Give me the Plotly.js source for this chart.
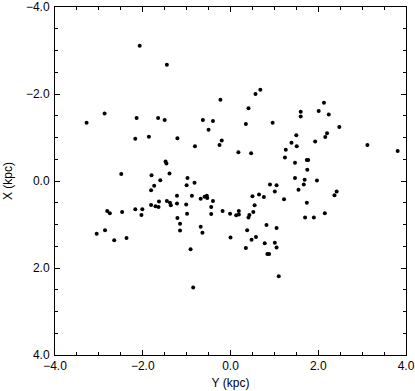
<!DOCTYPE html>
<html>
<head>
<meta charset="utf-8">
<script src="https://cdn.plot.ly/plotly-3.0.1.min.js"></script>
<style>
  html, body { margin: 0; padding: 0; background: #fff; }
  #chart { width: 415px; height: 391px; }
</style>
</head>
<body>
<div id="chart"></div>
<script>
// Galactic positions of the sample, Y (kpc) horizontal, X (kpc) vertical (reversed).
const posY = [
  -2.07, -1.45, -0.23, -2.87, -3.28, -2.14, -1.65, -1.50, -0.63, -0.40,
  -0.50, -2.17, -1.86, -1.21, -0.81, -0.20, -0.25, -1.48, -1.46, -2.49,
  -1.80, -1.39, -1.60, -0.98, -0.82, -1.74, -1.00, -1.81,  0.68,  0.57,
   0.41,  0.35,  0.96,  1.60,  1.60,  2.13,  2.01,  2.24,  2.48,  1.50,
   1.39,  1.51,  1.26,  1.93,  2.20,  2.16,  3.12,  3.81,  0.18,  0.47,
   1.24,  1.47,  1.74,  1.77,  1.75,  1.47,  1.69,  1.97,  0.90,  1.05,
   1.67,  1.01,  1.55,  1.22,  1.74,  0.50,  0.65,  0.76,  0.55,  0.52,
   0.43,  0.41,  0.19,  0.19,  0.13, -0.01,  2.42,  2.37,  1.70,  1.90,
   2.15,  0.82,  1.05,  0.38,  0.48,  0.58,  0.35,  0.78,  1.01,  1.05,
   0.84,  0.88,  1.10,  0.00, -1.81, -1.71, -1.64, -1.63, -1.45, -1.38,
  -1.36, -1.22, -1.22, -1.01, -0.88, -0.99, -0.68, -0.59, -0.54, -0.53,
  -0.40, -0.44, -0.44, -0.18, -1.21, -1.15, -1.15, -0.68, -0.64, -0.91,
  -0.85, -2.81, -2.75, -2.47, -2.17, -2.01, -2.03, -3.05, -2.86, -2.65,
  -2.37
];
const posX = [
  -3.11, -2.67, -1.87, -1.55, -1.34, -1.45, -1.45, -1.40, -1.40, -1.38,
  -1.18, -0.97, -1.02, -0.98, -0.80, -0.93, -0.83, -0.45, -0.40, -0.16,
  -0.13, -0.17, -0.02, -0.07,  0.04,  0.11,  0.10,  0.21, -2.10, -2.00,
  -1.67, -1.31, -1.34, -1.59, -1.48, -1.80, -1.61, -1.53, -1.24, -1.05,
  -0.88, -0.80, -0.72, -0.91, -1.10, -1.01, -0.83, -0.69, -0.66, -0.64,
  -0.54, -0.42, -0.48, -0.48, -0.26, -0.07, -0.03, -0.01,  0.08,  0.10,
   0.08,  0.24,  0.20,  0.42,  0.50,  0.35,  0.31,  0.37,  0.56,  0.71,
   0.78,  0.84,  0.69,  0.77,  0.79,  0.75,  0.24,  0.33,  0.84,  0.84,
   0.74,  1.01,  1.08,  1.13,  1.35,  1.29,  1.54,  1.43,  1.42,  1.53,
   1.68,  1.68,  2.19,  1.30,  0.55,  0.58,  0.60,  0.47,  0.46,  0.50,
   0.56,  0.34,  0.52,  0.54,  0.34,  0.75,  0.41,  0.36,  0.34,  0.39,
   0.46,  0.60,  0.76,  0.69,  0.85,  0.98,  1.14,  1.05,  1.19,  1.57,
   2.45,  0.69,  0.74,  0.71,  0.65,  0.65,  0.78,  1.21,  1.13,  1.36,
   1.31
];

const font = { family: "Liberation Sans, Arial, sans-serif", size: 12, color: "#000" };

const axisBase = {
  range: [-4, 4],
  dtick: 2,
  tick0: 0,
  tickformat: ".1f",
  ticks: "inside",
  ticklen: 5,
  tickwidth: 1,
  tickcolor: "#000",
  minor: { dtick: 0.5, ticks: "inside", ticklen: 3, tickwidth: 1, tickcolor: "#000" },
  showline: true,
  linecolor: "#000",
  linewidth: 1,
  mirror: "allticks",
  showgrid: false,
  zeroline: false,
  tickfont: font,
  ticklabeloverflow: "allow",
};

const trace = {
  x: posY, y: posX, type: "scatter", mode: "markers",
  marker: { color: "#000", size: 4 },
  hoverinfo: "none",
  cliponaxis: false,
};

const layout = {
  width: 415, height: 391,
  paper_bgcolor: "#fff", plot_bgcolor: "#fff",
  margin: { l: 55, r: 9, t: 7, b: 36 },
  showlegend: false,
  font: font,
  xaxis: Object.assign({}, axisBase, {
    title: { text: "Y (kpc)", font: font, standoff: 6 },
  }),
  yaxis: Object.assign({}, axisBase, {
    range: [4, -4],
    ticklabelstandoff: 2,
    title: { text: "X (kpc)", font: font, standoff: 10 },
  }),
};

Plotly.newPlot("chart", [trace], layout, { displayModeBar: false, staticPlot: true });
</script>
</body>
</html>
